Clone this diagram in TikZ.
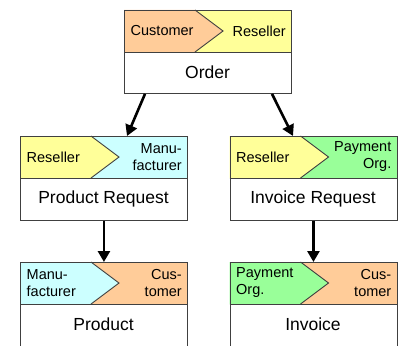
\documentclass[tikz,border=0pt]{standalone}
\usepackage{fontspec}
\setmainfont{Liberation Sans}
\usetikzlibrary{arrows.meta}

\definecolor{roleorange}{HTML}{FFCC99}
\definecolor{roleyellow}{HTML}{FFFF99}
\definecolor{rolecyan}{HTML}{CCFFFF}
\definecolor{rolegreen}{HTML}{99FF99}
\definecolor{edgegray}{HTML}{404040}

\tikzset{
  edge/.style={draw=edgegray, line width=0.9pt},
  cardframe/.style={edge, inner sep=0pt, minimum width=167pt, anchor=north west},
  roletext/.style={inner sep=0pt, font=\fontsize{14.5}{17}\selectfont},
  titletext/.style={inner sep=0pt, font=\fontsize{17.5}{21}\selectfont},
  flow/.style={line width=2.6pt, -{Triangle[length=11pt,width=12pt]}},
}

% \card{name}{x}{y}{left colour}{left role}{right colour}{right role}{title}{height}
\newcommand\card[9]{%
  \begin{scope}[shift={(#2,#3)}]
    \fill[#6] (0,0) rectangle (167,42);
    \fill[#4] (0,0) -- (71,0) -- (99,21) -- (71,42) -- (0,42) -- cycle;
    \draw[edge] (71,0) -- (99,21) -- (71,42);
    \draw[edge] (0,42) -- (167,42);
    \node[roletext, anchor=west, align=left] (#1-from) at (6.5,21) {#5};
    \node[roletext, anchor=east, align=right] (#1-to) at (162,21) {#7};
    \node[titletext] (#1-title) at (83.5,62.5) {#8};
    \node[cardframe, minimum height=#9pt] (#1) at (0,0) {};
  \end{scope}}

\begin{document}
\begin{tikzpicture}[x=1pt,y=-1pt]
  \useasboundingbox (0,0) rectangle (398,345);
  \clip (0,0) rectangle (398,345);
  \fill[white] (0,0) rectangle (398,345);

  \card{order}{124}{10}{roleorange}{Customer}{roleyellow}{Reseller}{Order}{83}
  \card{preq}{20}{136}{roleyellow}{Reseller}{rolecyan}{Manu-\\facturer}{Product Request}{84}
  \card{ireq}{229.5}{136}{roleyellow}{Reseller}{rolegreen}{Payment\\Org.}{Invoice Request}{84}
  \card{prod}{20}{262}{rolecyan}{Manu-\\facturer}{roleorange}{Cus-\\tomer}{Product}{100}
  \card{inv}{229.5}{262}{rolegreen}{Payment\\Org.}{roleorange}{Cus-\\tomer}{Invoice}{100}

  \draw[flow] ([xshift=21pt]order.south west) -- ([xshift=107pt]preq.north west);
  \draw[flow] ([xshift=148pt]order.south west) -- ([xshift=63.5pt]ireq.north west);
  \draw[flow] (preq.south) -- (prod.north);
  \draw[flow] (ireq.south) -- (inv.north);
\end{tikzpicture}
\end{document}
